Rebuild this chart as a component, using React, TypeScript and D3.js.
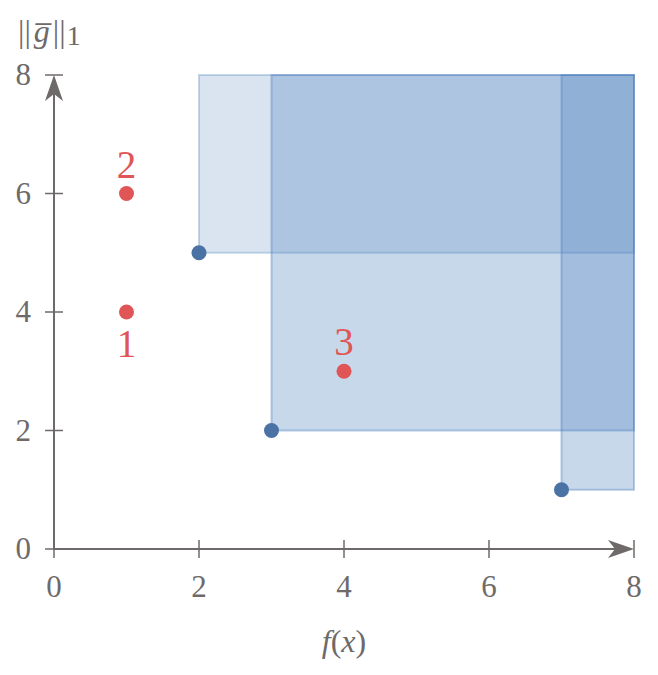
import React, { useEffect, useRef } from "react"
import * as d3 from "d3"

// data
const frontX = [2, 3, 7]
const frontY = [5, 2, 1]
const rectOpacity = [0.21, 0.31, 0.31]
const otherX = [1, 1, 4]
const otherY = [4, 6, 3]
const otherLabels = ["1", "2", "3"]
const labelAbove = [false, true, true]
const ticks = [0, 2, 4, 6, 8]
const domainMax = 8

const W = 658
const H = 675
const GRAY = "#6e6a6a"
const BLUE = "#4f81bd"
const FONT = "Liberation Serif"

const drawChart = (wrapper: SVGSVGElement) => {
  const svg = d3.select(wrapper)
  svg.selectAll("*").remove()

  const x = d3.scaleLinear().domain([0, domainMax]).range([54, 634])
  const y = d3.scaleLinear().domain([0, domainMax]).range([549, 75])

  // dominated regions
  frontX.forEach((fx, i) => {
    svg
      .append("rect")
      .attr("x", x(fx))
      .attr("y", y(domainMax))
      .attr("width", x(domainMax) - x(fx))
      .attr("height", y(frontY[i]) - y(domainMax))
      .attr("fill", BLUE)
      .attr("fill-opacity", rectOpacity[i])
      .attr("stroke", BLUE)
      .attr("stroke-opacity", rectOpacity[i] + 0.1)
      .attr("stroke-width", 2)
  })

  // axes
  const axis = svg.append("g").attr("stroke", GRAY).attr("stroke-width", 2)
  axis.append("line").attr("x1", x(0)).attr("x2", x(domainMax) - 12).attr("y1", y(0)).attr("y2", y(0))
  axis.append("line").attr("x1", x(0)).attr("x2", x(0)).attr("y1", y(0)).attr("y2", y(domainMax) + 12)

  ticks.forEach(t => {
    axis.append("line").attr("x1", x(t)).attr("x2", x(t)).attr("y1", y(0) - (t === 0 ? 0 : 9)).attr("y2", y(0) + 9).attr("stroke-width", 1.5)
    axis.append("line").attr("y1", y(t)).attr("y2", y(t)).attr("x1", x(0) - 9).attr("x2", x(0) + (t === 0 ? 0 : 9)).attr("stroke-width", 1.5)
  })

  const arrow = "M0,0 L-26,-9 L-19,0 L-26,9 Z"
  svg.append("path").attr("d", arrow).attr("fill", GRAY)
    .attr("transform", `translate(${x(domainMax)},${y(0)})`)
  svg.append("path").attr("d", arrow).attr("fill", GRAY)
    .attr("transform", `translate(${x(0)},${y(domainMax)}) rotate(-90)`)

  // tick labels
  svg.selectAll(".xt").data(ticks).enter().append("text")
    .attr("x", d => x(d)).attr("y", 597)
    .attr("text-anchor", "middle")
    .style("font-family", FONT).style("font-size", "31px").attr("fill", GRAY)
    .text(d => d)
  svg.selectAll(".yt").data(ticks).enter().append("text")
    .attr("x", 31).attr("y", d => y(d) + 10)
    .attr("text-anchor", "end")
    .style("font-family", FONT).style("font-size", "31px").attr("fill", GRAY)
    .text(d => d)

  // axis titles
  svg.append("text").attr("x", x(4)).attr("y", 652).attr("text-anchor", "middle")
    .style("font-family", FONT).style("font-size", "32px").attr("fill", GRAY)
    .html("<tspan font-style='italic'>f</tspan>(<tspan font-style='italic'>x</tspan>)")
  svg.append("text").attr("x", 18).attr("y", 42)
    .style("font-family", FONT).style("font-size", "32px").attr("fill", GRAY)
    .html("||<tspan font-style='italic' dx='3'>g̅</tspan><tspan dx='3'>||</tspan><tspan font-size='28' dy='3' dx='1'>1</tspan>")

  // other points
  otherX.forEach((ox, i) => {
    svg.append("circle").attr("cx", x(ox)).attr("cy", y(otherY[i])).attr("r", 7.5).attr("fill", "#e05555")
    svg.append("text")
      .attr("x", x(ox)).attr("y", y(otherY[i]) + (labelAbove[i] ? -16 : 45))
      .attr("text-anchor", "middle")
      .style("font-family", FONT).style("font-size", "39px").attr("fill", "#e05555")
      .text(otherLabels[i])
  })

  // front points
  frontX.forEach((fx, i) => {
    svg.append("circle").attr("cx", x(fx)).attr("cy", y(frontY[i])).attr("r", 7.5).attr("fill", "#4a72a4")
  })
}

export default function App() {
  const ref = useRef<SVGSVGElement>(null)
  useEffect(() => {
    if (ref.current) drawChart(ref.current)
  }, [])
  return (
    <svg ref={ref} width={W} height={H} style={{ position: "absolute", left: 0, top: 0, background: "#fff" }}></svg>
  )
}
